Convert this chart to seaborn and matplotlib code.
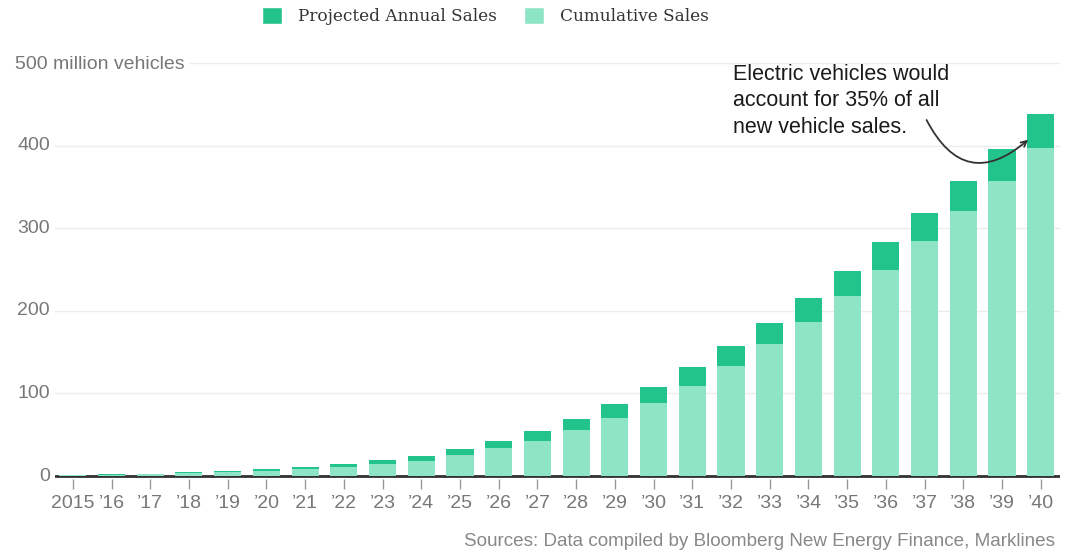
import pandas as pd
import matplotlib.pyplot as plt
import matplotlib.transforms as mtransforms
from matplotlib.patches import Patch
import seaborn as sns

# values, million vehicles
years = ['2015', '’16', '’17', '’18', '’19', '’20', '’21', '’22', '’23', '’24', '’25', '’26', '’27',
         '’28', '’29', '’30', '’31', '’32', '’33', '’34', '’35', '’36', '’37', '’38', '’39', '’40']
cumulative = [0.7, 1.3, 2, 3.5, 4.5, 6, 8, 10.5, 14, 18, 25, 33.5, 42.4, 55.7, 70.5, 88.7,
              109, 133, 160, 187, 218, 250, 285, 321, 357, 397]
annual = [0.6, 0.7, 1, 1.5, 1.9, 2.9, 3.3, 4, 5, 6.2, 7.3, 8.9, 12.1, 13.7, 17, 19.3,
          23, 25, 25.6, 29, 30.5, 33, 34, 36, 39, 41]
yticks = [0, 100, 200, 300, 400, 500]
ytick_labels = ['0', '100', '200', '300', '400', '500 million vehicles']
legend_labels = ['Projected Annual Sales', 'Cumulative Sales']
note = 'Electric vehicles would\naccount for 35% of all\nnew vehicle sales.'
source = 'Sources: Data compiled by Bloomberg New Energy Finance, Marklines'

dark = '#22c48c'
light = '#8de5c5'

df = pd.DataFrame({'year': years, 'cumulative': cumulative, 'annual': annual})
df['total'] = df['cumulative'] + df['annual']

sns.set_style('white')
plt.rcParams['font.family'] = ['Liberation Sans', 'DejaVu Sans']

fig = plt.figure(figsize=(10.74, 5.55), dpi=100)
ax = fig.add_axes([0.0512, 0.1378, 0.9358, 0.7636])

ax.axhline(0, color='#333333', lw=2, zorder=1)
sns.barplot(data=df, x='year', y='total', color=dark, width=0.7, saturation=1, ax=ax,
            zorder=2, linewidth=0)
sns.barplot(data=df, x='year', y='cumulative', color=light, width=0.7, saturation=1, ax=ax,
            zorder=3, linewidth=0)

ax.set_xlim(-0.46, 25.5)
ax.set_ylim(-3, 510)
ax.set_xlabel('')
ax.set_ylabel('')
for s in ax.spines.values():
    s.set_visible(False)

ax.set_yticks(yticks)
ax.set_yticklabels([])
ax.tick_params(axis='y', length=0)
ax.yaxis.grid(True, color='#ececec', lw=1)
ax.set_axisbelow(True)

ax.tick_params(axis='x', bottom=True, direction='out', length=7, width=1, color='#999999',
               labelcolor='#777777', labelsize=14, pad=5)

# y labels sit left of the plot, the top one runs into it
tr = mtransforms.blended_transform_factory(fig.transFigure, ax.transData)
for v, lab in zip(yticks, ytick_labels):
    if v == yticks[-1]:
        ax.text(15 / 1074, v - 2, lab, transform=tr, ha='left', va='center', fontsize=14,
                color='#777777', zorder=5,
                bbox=dict(facecolor='white', edgecolor='none', pad=3))
    else:
        ax.text(50 / 1074, v, lab, transform=tr, ha='right', va='center', fontsize=14,
                color='#777777')

handles = [Patch(facecolor=dark), Patch(facecolor=light)]
fig.legend(handles, legend_labels, loc='center', bbox_to_anchor=(0.452, 0.971), ncol=2,
           frameon=False, handlelength=1.2, handleheight=1.2, handletextpad=0.95,
           columnspacing=1.6, labelcolor='#333333',
           prop={'family': 'DejaVu Serif', 'size': 12.2})

last = len(years) - 1
ax.text(17.05, 499, note, ha='left', va='top', fontsize=15.5, color='#1a1a1a',
        linespacing=1.35)
ax.annotate('', xy=(last - 0.27, cumulative[-1] + annual[-1] * 0.3), xytext=(22.02, 434),
            arrowprops=dict(arrowstyle='->', color='#333333', lw=1.3,
                            connectionstyle='arc3,rad=0.65'))

fig.text(1055 / 1074, 0.024, source, ha='right', va='center', fontsize=13.6, color='#888888')

fig.savefig('out.png', dpi=100)
